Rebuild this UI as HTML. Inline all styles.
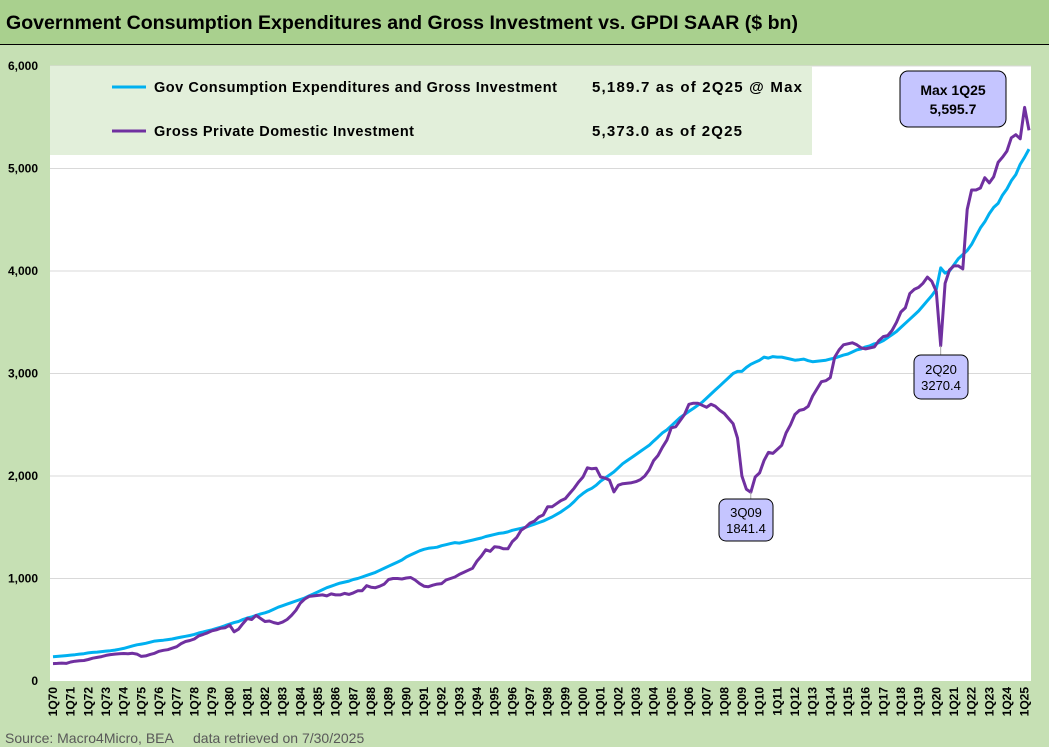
<!DOCTYPE html>
<html><head><meta charset="utf-8"><style>
body{margin:0;background:#c6e0b4;}
svg{display:block;font-family:"Liberation Sans",Arial,sans-serif;}
</style></head><body>
<svg id="chart" width="1049" height="747" viewBox="0 0 1049 747">
<rect x="0" y="0" width="1049" height="747" fill="#c6e0b4"/>
<rect x="0" y="0" width="1049" height="44" fill="#a9d08e"/>
<line x1="0" y1="44.5" x2="1049" y2="44.5" stroke="#000" stroke-width="1"/>
<text x="6" y="29" font-size="19" font-weight="bold" textLength="792" lengthAdjust="spacingAndGlyphs">Government Consumption Expenditures and Gross Investment vs. GPDI SAAR ($ bn)</text>
<rect x="50" y="66" width="981" height="615" fill="#fff"/>
<g id="grid"></g>
<g id="yticks"></g>
<g id="xticks"></g>
<rect x="50" y="66" width="762" height="89" fill="#e2efda"/>
<g>
<line x1="112" y1="87" x2="146" y2="87" stroke="#00b0f0" stroke-width="3"/>
<text x="154" y="92" font-size="14.5" font-weight="bold" textLength="403" lengthAdjust="spacing">Gov Consumption Expenditures and Gross Investment</text>
<text x="592" y="92" font-size="15" font-weight="bold" textLength="210" lengthAdjust="spacing">5,189.7 as of 2Q25 @ Max</text>
</g>
<g>
<line x1="112" y1="131" x2="146" y2="131" stroke="#7030a0" stroke-width="3"/>
<text x="154" y="136" font-size="14.5" font-weight="bold" textLength="260" lengthAdjust="spacing">Gross Private Domestic Investment</text>
<text x="592" y="136" font-size="15" font-weight="bold" textLength="150" lengthAdjust="spacing">5,373.0 as of 2Q25</text>
</g>
<g id="series"></g>
<g id="notes"></g>
<text x="5" y="743" font-size="14" fill="#595959">Source: Macro4Micro, BEA</text>
<text x="193" y="743" font-size="14" fill="#595959">data retrieved on 7/30/2025</text>
</svg>
<script>
const yTicks=[0,1000,2000,3000,4000,5000,6000];
const yTickLabels=["0","1,000","2,000","3,000","4,000","5,000","6,000"];
const gov=[236,240,244,248,253,257,262,266,274,279,282,287,292,296,301,309,318,330,342,353,360,368,379,389,394,398,404,410,
420,428,436,444,455,468,478,490,500,512,525,540,555,570,580,600,615,625,640,655,665,680,700,720,
735,750,765,780,795,810,830,850,870,890,910,925,940,955,965,975,990,1000,1015,1030,1045,1060,1080,1100,
1120,1140,1160,1180,1210,1230,1250,1270,1285,1295,1300,1305,1320,1330,1340,1350,1345,1355,1365,1375,
1385,1395,1410,1420,1430,1440,1445,1455,1470,1480,1490,1500,1515,1530,1545,1560,1580,1600,1625,1650,1680,1710,1750,1795,
1830,1860,1880,1910,1950,1980,2010,2040,2080,2120,2150,2180,2210,2240,2270,2300,2340,2380,2420,2450,2490,2530,2570,2600,
2630,2660,2690,2720,2760,2800,2840,2880,2920,2960,3000,3020,3020,3060,3090,3110,3130,3160,3150,3165,
3160,3160,3150,3140,3130,3135,3140,3125,3115,3120,3125,3130,3140,3150,3165,3180,3190,3210,3230,3240,
3260,3270,3290,3300,3320,3350,3380,3410,3450,3490,3530,3570,3610,3660,3710,3760,3820,4030,3980,4000,
4060,4120,4160,4200,4260,4340,4420,4480,4560,4620,4660,4740,4800,4880,4940,5040,5110,5189.7];
const gpdi=[170,172,175,172,185,193,198,200,210,222,230,238,250,258,262,265,268,265,270,262,240,245,260,270,290,300,305,320,
335,365,385,395,410,440,455,470,490,500,515,520,545,480,505,560,610,600,640,610,580,585,570,560,
575,600,640,690,760,800,825,830,835,840,830,850,840,840,855,845,860,880,880,930,915,910,925,945,
990,1000,1000,995,1005,1010,985,950,925,920,935,945,950,985,1000,1015,1040,1060,1080,1100,
1170,1220,1280,1265,1310,1305,1290,1290,1360,1400,1470,1500,1540,1560,1600,1620,1700,1700,1730,1760,1780,1830,1880,1940,
1990,2080,2070,2075,1990,1980,1960,1845,1910,1925,1930,1935,1945,1965,2000,2060,2150,2200,2280,2350,2470,2480,2540,2600,
2700,2710,2710,2690,2670,2700,2680,2640,2610,2560,2510,2370,2000,1870,1841.4,1990,2030,2150,2230,2220,
2260,2300,2420,2500,2600,2640,2650,2680,2780,2850,2920,2930,2960,3160,3230,3280,3290,3300,3280,3250,
3240,3250,3260,3320,3360,3370,3420,3500,3600,3640,3780,3820,3840,3880,3940,3900,3800,3270.4,3880,4010,
4050,4050,4020,4600,4790,4790,4810,4910,4860,4920,5060,5110,5170,5300,5330,5290,5595.7,5373.0];
const startYear=1970;
const NS="http://www.w3.org/2000/svg";
const X0=53,X1=1029,Y0=681,Y1=66,YMAX=6000;
const n=gov.length;
function xs(i){return X0+(X1-X0)*i/(n-1);}
function ys(v){return Y0-(Y0-Y1)*v/YMAX;}
function mk(tag,attrs,parent){const e=document.createElementNS(NS,tag);for(const k in attrs)e.setAttribute(k,attrs[k]);parent.appendChild(e);return e;}
const grid=document.getElementById('grid'),yt=document.getElementById('yticks'),xt=document.getElementById('xticks');
yTicks.forEach((v,i)=>{
 if(v>0){const g=mk('line',{x1:50,x2:1031,y1:ys(v),y2:ys(v),stroke:'#d9d9d9','stroke-width':1},grid);
 
 }
 const t=mk('text',{x:38,y:ys(v)+4,'text-anchor':'end','font-size':12,'font-weight':'bold'},yt);
 t.textContent=yTickLabels[i];
 
 
});
for(let i=0;i<n;i+=4){
 const yr=startYear+i/4;
 const lab="1Q"+String(yr%100).padStart(2,'0');
 const x=xs(i);
 const t=mk('text',{x:0,y:0,transform:`translate(${x+4},687) rotate(-90)`,'text-anchor':'end','font-size':12,'font-weight':'bold'},xt);
 t.textContent=lab;
 
 
}
const ser=document.getElementById('series');
function line(arr,color,name){
 const d=arr.map((v,i)=>(i?'L':'M')+xs(i).toFixed(1)+','+ys(v).toFixed(1)).join('');
 const p=mk('path',{d:d,fill:'none',stroke:color,'stroke-width':3,'stroke-linejoin':'round'},ser);
 
 
}
line(gov,'#00b0f0','gov-line');
line(gpdi,'#7030a0','gpdi-line');
const notes=document.getElementById('notes');
function note(idx,bx,by,w,h,l1,l2,fs,name){
 const px=xs(idx),py=ys(gpdi[idx]);
 const cy=by<py?by+h:by;
 mk('line',{x1:px,y1:py,x2:px,y2:cy,stroke:'#a6a6a6','stroke-width':1},notes);
 const g=mk('g',{},notes);
 
 
 mk('rect',{x:bx,y:by,width:w,height:h,rx:7,fill:'#c5c5ff',stroke:'#000','stroke-width':1},g);
 const t1=mk('text',{x:bx+w/2,y:by+h/2-3,'text-anchor':'middle','font-size':fs},g);t1.textContent=l1;
 const t2=mk('text',{x:bx+w/2,y:by+h/2+fs,'text-anchor':'middle','font-size':fs},g);t2.textContent=l2;
}
note(158,719,499,54,42,"3Q09","1841.4",13,'annotation-3q09');
note(201,914,355,54,44,"2Q20","3270.4",13,'annotation-2q20');
(function(){const g=mk('g',{},notes);
 
 
 mk('rect',{x:900,y:71,width:106,height:56,rx:8,fill:'#c5c5ff',stroke:'#000','stroke-width':1},g);
 const t1=mk('text',{x:953,y:95,'text-anchor':'middle','font-size':14,'font-weight':'bold'},g);t1.textContent="Max 1Q25";
 const t2=mk('text',{x:953,y:114,'text-anchor':'middle','font-size':14,'font-weight':'bold'},g);t2.textContent="5,595.7";
})();
</script>
</body></html>
